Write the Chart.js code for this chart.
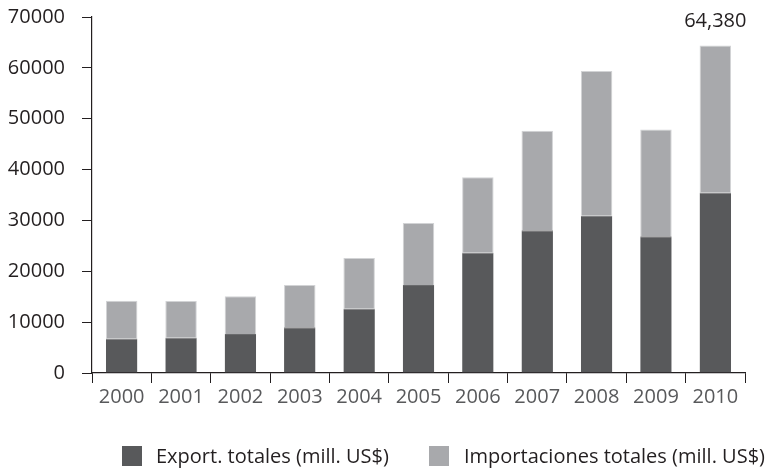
<!DOCTYPE html>
<html>
<head>
<meta charset="utf-8">
<script src="https://cdn.jsdelivr.net/npm/chart.js@4/dist/chart.umd.min.js"></script>
<style>
  html, body { margin: 0; padding: 0; background: #ffffff; }
  #wrap { width: 771px; height: 469px; position: relative; }
</style>
</head>
<body>
<div id="wrap"><canvas id="chart"></canvas></div>
<script>
// Years on the category axis
const years = ['2000', '2001', '2002', '2003', '2004', '2005', '2006', '2007', '2008', '2009', '2010'];
// Total exports, million US$
const exportsTotal = [6800, 7000, 7650, 9000, 12700, 17300, 23700, 28050, 30900, 26900, 35500];
// Total imports, million US$ (stacked on top of exports)
const importsTotal = [7400, 7150, 7450, 8300, 9900, 12200, 14800, 19600, 28500, 21000, 28880];
// Value axis ticks
const yTicks = [0, 10000, 20000, 30000, 40000, 50000, 60000, 70000];
// Series names
const seriesNames = ['Export. totales (mill. US$)', 'Importaciones totales (mill. US$)'];
// Category whose stacked total is written above the bar
const labelledIndex = [10];

const FONT = '"Open Sans", "Noto Sans", sans-serif';
const AXIS = '#231f20';
const DARK = '#58595b';
const LIGHT = '#a8a9ac';

// Stacked total written above the chosen bar
const totalLabel = {
  id: 'totalLabel',
  afterDatasetsDraw(chart) {
    const ctx = chart.ctx;
    const topMeta = chart.getDatasetMeta(1);
    ctx.save();
    ctx.font = '20px ' + FONT;
    ctx.fillStyle = AXIS;
    ctx.textAlign = 'center';
    ctx.textBaseline = 'middle';
    labelledIndex.forEach(i => {
      const el = topMeta.data[i];
      const total = exportsTotal[i] + importsTotal[i];
      ctx.fillText(total.toLocaleString('en-US'), el.x, el.y - 24);
    });
    ctx.restore();
  }
};

// Legend row under the axis
const legendRow = {
  id: 'legendRow',
  afterDraw(chart) {
    const ctx = chart.ctx;
    const items = [
      { color: DARK, text: seriesNames[0], box: 122, tx: 156 },
      { color: LIGHT, text: seriesNames[1], box: 429, tx: 464 }
    ];
    ctx.save();
    ctx.font = '20px ' + FONT;
    ctx.textBaseline = 'alphabetic';
    ctx.textAlign = 'left';
    items.forEach(it => {
      ctx.fillStyle = it.color;
      ctx.fillRect(it.box, 446, 20, 20);
      ctx.fillStyle = AXIS;
      ctx.fillText(it.text, it.tx, 463);
    });
    ctx.restore();
  }
};

new Chart(document.getElementById('chart'), {
  type: 'bar',
  data: {
    labels: years,
    datasets: [
      {
        label: seriesNames[0],
        data: exportsTotal,
        backgroundColor: DARK,
        borderColor: '#6a6b6d',
        borderWidth: { top: 1, left: 0, right: 0, bottom: 0 },
        barPercentage: 0.53,
        categoryPercentage: 1.0
      },
      {
        label: seriesNames[1],
        data: importsTotal,
        backgroundColor: LIGHT,
        borderColor: '#d2d3d5',
        borderWidth: { top: 1, left: 1, right: 1, bottom: 0 },
        barPercentage: 0.53,
        categoryPercentage: 1.0
      }
    ]
  },
  options: {
    responsive: true,
    maintainAspectRatio: false,
    animation: false,
    layout: { padding: { top: 17, right: 26, bottom: 56, left: 0 } },
    plugins: {
      legend: { display: false },
      tooltip: { enabled: false }
    },
    scales: {
      x: {
        stacked: true,
        afterFit(scale) { scale.height = 40; },
        grid: {
          offset: true,
          drawOnChartArea: false,
          drawTicks: true,
          tickLength: 10,
          color: AXIS,
          lineWidth: 1
        },
        border: { display: true, color: AXIS, width: 1.2 },
        ticks: {
          color: '#58595b',
          font: { family: FONT, size: 20 },
          padding: 2,
          maxRotation: 0,
          autoSkip: false
        }
      },
      y: {
        stacked: true,
        min: 0,
        max: 70000,
        afterFit(scale) {
          scale.width = 92;
          scale.paddingTop = 0;
          scale.paddingBottom = 0;
        },
        afterBuildTicks(scale) { scale.ticks = yTicks.map(v => ({ value: v })); },
        grid: {
          drawOnChartArea: false,
          drawTicks: true,
          tickLength: 10,
          color: AXIS,
          lineWidth: 1
        },
        border: { display: true, color: AXIS, width: 1.2 },
        ticks: {
          color: AXIS,
          font: { family: FONT, size: 20 },
          padding: 17,
          callback: v => String(v)
        }
      }
    }
  },
  plugins: [totalLabel, legendRow]
});
</script>
</body>
</html>
